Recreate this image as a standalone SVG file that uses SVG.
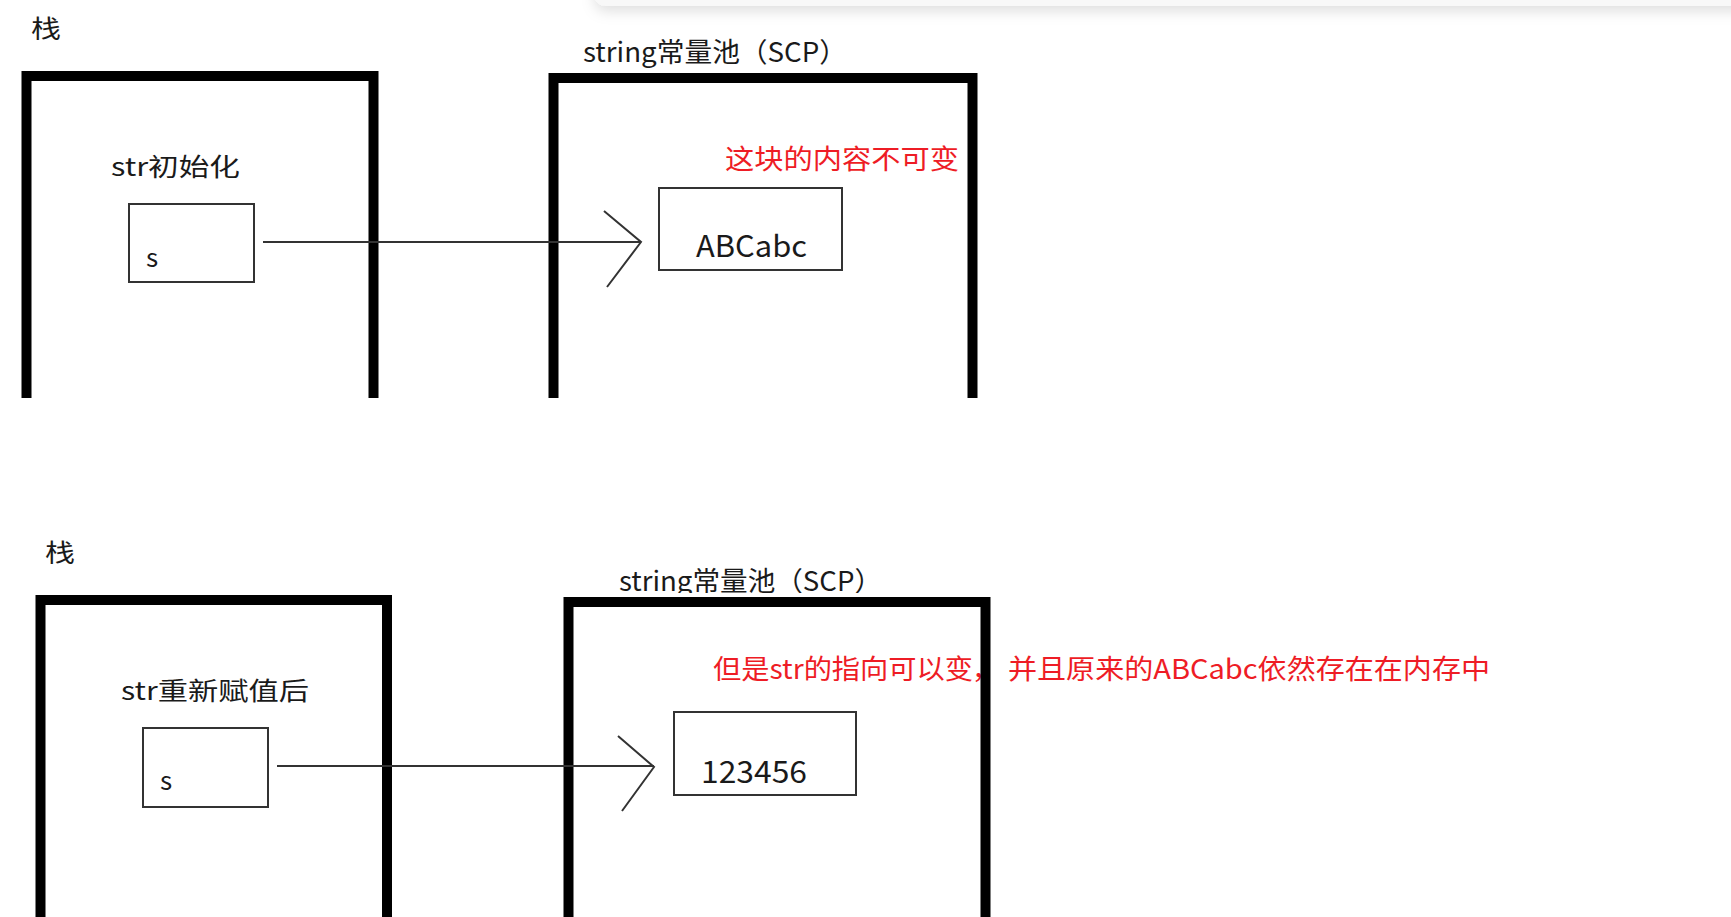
<svg xmlns="http://www.w3.org/2000/svg" width="1731" height="917" viewBox="0 0 1731 917">
<defs>
<style>
.frame{fill:none;stroke:#000;stroke-width:10;stroke-linejoin:miter}
.cell{fill:#fff;stroke:#333;stroke-width:2}
.conn{fill:none;stroke:#333;stroke-width:2}
.lbl{font-family:"Noto Sans CJK SC","Microsoft YaHei",sans-serif;fill:#1a1a1a}
.red{font-family:"Noto Sans CJK SC","Microsoft YaHei",sans-serif;fill:#ee1c25}
</style>
<filter id="sh" x="-5%" y="-100%" width="110%" height="400%">
<feDropShadow dx="0" dy="5" stdDeviation="7" flood-color="#000" flood-opacity="0.13"/>
</filter>
<clipPath id="clipB"><rect x="0" y="540" width="1731" height="53"/></clipPath>
</defs>
<rect width="1731" height="917" fill="#fff"/>
<rect x="595" y="-40" width="1160" height="46" rx="10" fill="#f8f8f8" filter="url(#sh)"/>

<!-- top section -->
<g id="stack1">
<text class="lbl" x="31" y="38" font-size="25" textLength="30" lengthAdjust="spacingAndGlyphs">栈</text>
<path class="frame" d="M26.5,398 V76 H373.5 V398"/>
<text class="lbl" x="111" y="176" font-size="25" textLength="129" lengthAdjust="spacingAndGlyphs">str初始化</text>
</g>
<g id="var1">
<rect class="cell" x="129" y="204" width="125" height="78"/>
<text class="lbl" x="146" y="267" font-size="26">s</text>
</g>
<g id="pool1">
<text class="lbl" x="583" y="62" font-size="27" textLength="264" lengthAdjust="spacingAndGlyphs">string常量池（SCP）</text>
<path class="frame" d="M553.5,398 V78 H972.5 V398"/>
<text class="red" x="725" y="169" font-size="27" textLength="234" lengthAdjust="spacingAndGlyphs">这块的内容不可变</text>
</g>
<g id="val1">
<rect class="cell" x="659" y="188" width="183" height="82"/>
<text class="lbl" x="696" y="257" font-size="30" textLength="111" lengthAdjust="spacingAndGlyphs">ABCabc</text>
</g>

<!-- bottom section -->
<g id="stack2">
<text class="lbl" x="45" y="562" font-size="25" textLength="30" lengthAdjust="spacingAndGlyphs">栈</text>
<path class="frame" d="M40.5,925 V600 H387 V925"/>
<text class="lbl" x="121" y="700" font-size="25" textLength="188" lengthAdjust="spacingAndGlyphs">str重新赋值后</text>
</g>
<g id="var2">
<rect class="cell" x="143" y="728" width="125" height="79"/>
<text class="lbl" x="160" y="790" font-size="26">s</text>
</g>
<g id="pool2">
<text class="red" y="679" font-size="27"><tspan x="713" textLength="260" lengthAdjust="spacingAndGlyphs">但是str的指向可以变</tspan><tspan x="972">，</tspan><tspan x="1008" textLength="482" lengthAdjust="spacingAndGlyphs">并且原来的ABCabc依然存在在内存中</tspan></text>
<text class="lbl" x="619" y="591" font-size="27" textLength="263" lengthAdjust="spacingAndGlyphs" clip-path="url(#clipB)">string常量池（SCP）</text>
<path class="frame" d="M568.5,925 V602 H985.5 V925"/>
</g>
<g id="val2">
<rect class="cell" x="674" y="712" width="182" height="83"/>
<text class="lbl" x="701" y="783" font-size="30" textLength="106" lengthAdjust="spacingAndGlyphs">123456</text>
</g>

<g id="connectors">
<path class="conn" d="M263,242 H641"/>
<polyline class="conn" points="604,211 641,242 607,287"/>
<path class="conn" d="M277,766 H654"/>
<polyline class="conn" points="618,736 654,767 622,811"/>
</g>
</svg>
